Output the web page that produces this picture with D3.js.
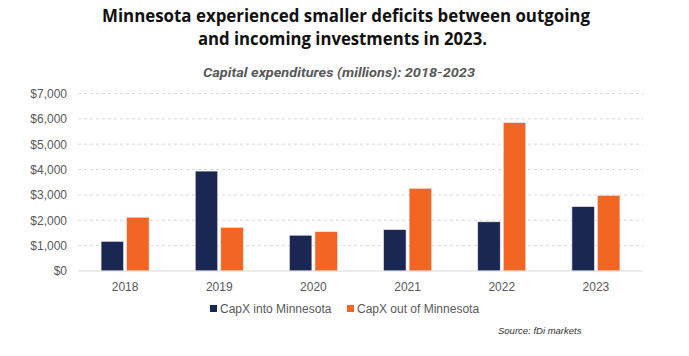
<!DOCTYPE html>
<html><head><meta charset="utf-8">
<script src="https://cdn.jsdelivr.net/npm/d3@7"></script>
<style>body{margin:0;background:#fff;} svg{display:block;}</style>
</head><body>
<svg id="c" width="689" height="356"></svg>
<script>
const years = ["2018","2019","2020","2021","2022","2023"];
const capxInto = [1170, 3940, 1410, 1630, 1940, 2540];
const capxOut = [2120, 1720, 1550, 3260, 5850, 2980];
const seriesNames = ["CapX into Minnesota", "CapX out of Minnesota"];
const yTicks = [0,1000,2000,3000,4000,5000,6000,7000];
const titleLines = ["Minnesota experienced smaller deficits between outgoing","and incoming investments in 2023."];
const subtitle = "Capital expenditures (millions): 2018-2023";
const sourceText = "Source: fDi markets";

(function(){
const colors = ["#1B2753", "#F26522"];
const svg = d3.select("#c");
const pLeft = 78, pRight = 643, pTop = 93.5, pBottom = 271;

const x = d3.scaleBand().domain(years).range([pLeft, pRight]);
const xs = d3.scaleBand().domain([0,1]).range([0, 48]).paddingInner(0.12);
const y = d3.scaleLinear().domain([0,7000]).range([pBottom, pTop]);

// title
const tLen = [488, 289];
const tCx = [346, 342.5];
svg.append("g").selectAll("text").data(titleLines).join("text")
  .attr("x", (d,i)=>tCx[i]).attr("y", (d,i)=>i===0 ? 22 : 45)
  .attr("text-anchor","middle")
  .attr("textLength", (d,i)=>tLen[i]).attr("lengthAdjust","spacingAndGlyphs")
  .attr("font-family","'Open Sans', sans-serif").attr("font-weight","700")
  .attr("font-size", 17.5).attr("fill","#111")
  .text(d=>d);

svg.append("text").attr("x", 339).attr("y", 77).attr("text-anchor","middle")
  .attr("textLength", 272).attr("lengthAdjust","spacingAndGlyphs")
  .attr("font-family","Roboto, sans-serif").attr("font-style","italic").attr("font-weight","700")
  .attr("font-size", 13).attr("fill","#595959").text(subtitle);

// grid
svg.append("g").selectAll("line").data(yTicks.filter(d=>d>0)).join("line")
  .attr("x1", pLeft).attr("x2", pRight)
  .attr("y1", d=>y(d)).attr("y2", d=>y(d))
  .attr("stroke","#d9d9d9").attr("stroke-dasharray","3,3").attr("stroke-width",1);

// y axis labels
const yAxis = d3.axisLeft(y).tickValues(yTicks).tickSize(0).tickPadding(0)
  .tickFormat(d=>"$" + d3.format(",")(d));
const yg = svg.append("g").attr("transform", "translate(67,0)").call(yAxis);
yg.select(".domain").remove();
yg.selectAll("text").attr("font-family","'Liberation Sans', Arial, sans-serif")
  .attr("font-size", 12).attr("fill","#595959");

// bars
const data = years.map((yr,i)=>({yr, vals:[capxInto[i], capxOut[i]]}));
const groups = svg.append("g").selectAll("g").data(data).join("g")
  .attr("transform", d=>`translate(${x(d.yr) + x.bandwidth()/2 - 24},0)`);
groups.selectAll("rect").data(d=>d.vals.map((v,k)=>({v,k}))).join("rect")
  .attr("x", d=>xs(d.k)).attr("width", xs.bandwidth())
  .attr("y", d=>y(d.v)).attr("height", d=>y(0)-y(d.v))
  .attr("fill", d=>colors[d.k]).attr("stroke","#e8e8f0").attr("stroke-width",0.6);

// baseline
svg.append("line").attr("x1", pLeft).attr("x2", pRight).attr("y1", pBottom).attr("y2", pBottom)
  .attr("stroke","#d9d9d9").attr("stroke-width",1);

// x axis
const xAxis = d3.axisBottom(x).tickSize(0).tickPadding(11);
const xg = svg.append("g").attr("transform", `translate(0,${pBottom})`).call(xAxis);
xg.select(".domain").remove();
xg.selectAll("text").attr("font-family","'Liberation Sans', Arial, sans-serif")
  .attr("font-size", 12).attr("fill","#595959");

// legend
const legX = [210, 347];
const lg = svg.append("g").selectAll("g").data(seriesNames).join("g")
  .attr("transform", (d,i)=>`translate(${legX[i]},309)`);
lg.append("rect").attr("x",0).attr("y",-4).attr("width",7).attr("height",7)
  .attr("fill",(d,i)=>colors[i]);
lg.append("text").attr("x",10).attr("y",4)
  .attr("font-family","'Liberation Sans', Arial, sans-serif").attr("font-size",12)
  .attr("fill","#595959").text(d=>d);

// source
svg.append("text").attr("x", 498).attr("y", 334)
  .attr("font-family","'Liberation Sans', Arial, sans-serif").attr("font-style","italic")
  .attr("font-size", 9.5).attr("fill","#333").text(sourceText);
})();
</script>
</body></html>
